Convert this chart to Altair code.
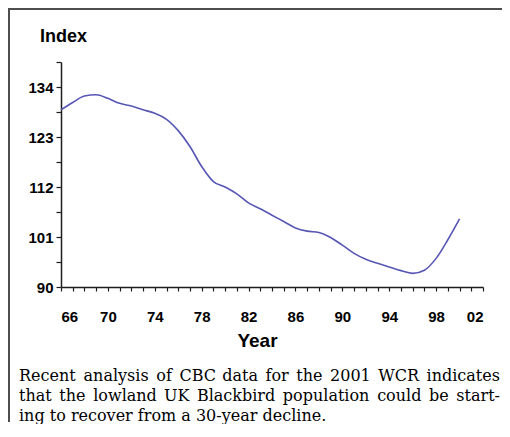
import altair as alt
import pandas as pd

# ---- data ----
years = list(range(1966, 2001))
index_values = [129.0, 130.6, 132.0, 132.3, 131.5, 130.4, 129.8, 129.0, 128.2, 126.9,
                124.4, 120.9, 116.5, 113.2, 112.0, 110.5, 108.5, 107.2, 105.8, 104.4,
                103.0, 102.3, 102.0, 100.9, 99.2, 97.4, 96.1, 95.2, 94.4, 93.6,
                93.0, 93.7, 96.3, 100.4, 105.0]
x_tick_values = list(range(1966, 2003))
y_tick_values = [90 + 5.5 * i for i in range(10)]
caption_line1 = "Recent analysis of CBC data for the 2001 WCR indicates"
caption_line2 = "that the lowland UK Blackbird population could be start-"
caption_line3 = "ing to recover from a 30-year decline."

W, H = 422, 225
AXIS_COLOR = "#1e1e1e"
LINE_COLOR = "#5656b4"
SANS = "Liberation Sans"
SERIF = "DejaVu Serif"
CAP_SIZE = 16

# approximate advance widths (em) of DejaVu Serif, used to justify the caption
EM = {' ': 0.318, 'a': 0.596, 'b': 0.640, 'c': 0.560, 'd': 0.640, 'e': 0.592, 'f': 0.370,
      'g': 0.640, 'h': 0.648, 'i': 0.320, 'k': 0.608, 'l': 0.320, 'm': 0.956, 'n': 0.648,
      'o': 0.602, 'p': 0.640, 'r': 0.478, 's': 0.513, 't': 0.402, 'u': 0.648, 'v': 0.568,
      'w': 0.822, 'y': 0.568, 'B': 0.734, 'C': 0.734, 'K': 0.775, 'R': 0.770, 'U': 0.811,
      'W': 1.038, '-': 0.338, '.': 0.318}
for d in "0123456789":
    EM[d] = 0.636


def word_width(w):
    return sum(EM.get(ch, 0.6) for ch in w) * CAP_SIZE


def justified(line, x0, x1):
    words = line.split(" ")
    widths = [word_width(w) for w in words]
    gap = (x1 - x0 - sum(widths)) / (len(words) - 1)
    xs, x = [], x0
    for w in widths:
        xs.append(x)
        x += w + gap
    return pd.DataFrame({"word": words, "px": xs})


df = pd.DataFrame({"year": years, "index": index_values})

x_axis = alt.Axis(
    values=x_tick_values,
    labelExpr="datum.value % 4 == 2 ? substring(toString(datum.value), 2) : ''",
    title="Year",
    titleFont=SANS, titleFontSize=19, titleFontWeight="bold", titleColor="black",
    titleX=196, titleY=59, titleAlign="center", titleBaseline="alphabetic",
    labelFont=SANS, labelFontSize=15, labelFontWeight="bold", labelColor="black",
    labelPadding=18, labelAngle=0,
    domainColor=AXIS_COLOR, domainWidth=1.5,
    tickColor=AXIS_COLOR, tickWidth=1.2, tickSize=4,
    grid=False,
)
y_axis = alt.Axis(
    values=y_tick_values,
    labelExpr="(datum.value - 90) % 11 == 0 ? format(datum.value, 'd') : ''",
    title="Index",
    titleFont=SANS, titleFontSize=18, titleFontWeight="bold", titleColor="black",
    titleAngle=0, titleX=2, titleY=-21, titleAlign="center", titleBaseline="alphabetic",
    labelFont=SANS, labelFontSize=15, labelFontWeight="bold", labelColor="black",
    labelPadding=3, labelBaseline="middle",
    domainColor=AXIS_COLOR, domainWidth=1.5,
    tickColor=AXIS_COLOR, tickWidth=1.2, tickSize=5,
    grid=False,
)

line = alt.Chart(df).mark_line(color=LINE_COLOR, strokeWidth=1.6, interpolate="monotone").encode(
    x=alt.X("year:Q", scale=alt.Scale(domain=[1966, 2002], nice=False, zero=False), axis=x_axis),
    y=alt.Y("index:Q", scale=alt.Scale(domain=[90, 139.5], nice=False, zero=False), axis=y_axis),
)

RIGHT_PAD = 19
one = pd.DataFrame({"k": [0]})
border_top = alt.Chart(one).mark_rect(color="#4d4d4d", strokeWidth=0).encode(
    x=alt.value(-53), x2=alt.value(W + RIGHT_PAD), y=alt.value(-54), y2=alt.value(-52))
border_left = alt.Chart(one).mark_rect(color="#4d4d4d", strokeWidth=0).encode(
    x=alt.value(-53), x2=alt.value(-51), y=alt.value(-54), y2=alt.value(H + 135))

LEFT, RIGHT = 19 - 61, 500 - 61


def word_layer(wdf, ybase):
    return alt.Chart(wdf).mark_text(align="left", baseline="alphabetic", font=SERIF,
                                    fontSize=CAP_SIZE, color="black").encode(
        x=alt.X("px:Q", scale=None), y=alt.value(ybase), text="word:N")


cap3 = alt.Chart(pd.DataFrame({"t": [caption_line3]})).mark_text(
    align="left", baseline="alphabetic", font=SERIF, fontSize=CAP_SIZE, color="black").encode(
    x=alt.value(LEFT), y=alt.value(359.3), text="t:N")

chart = alt.layer(
    line, border_top, border_left,
    word_layer(justified(caption_line1, LEFT, RIGHT), 318.7),
    word_layer(justified(caption_line2, LEFT, RIGHT), 339.0),
    cap3,
).properties(
    width=W, height=H,
    autosize=alt.AutoSizeParams(type="none"),
    padding={"left": 53, "top": 54, "right": RIGHT_PAD, "bottom": 137},
    background="white",
).configure_view(strokeWidth=0)

chart.save("out.html", embed_options={"renderer": "svg", "actions": False})
